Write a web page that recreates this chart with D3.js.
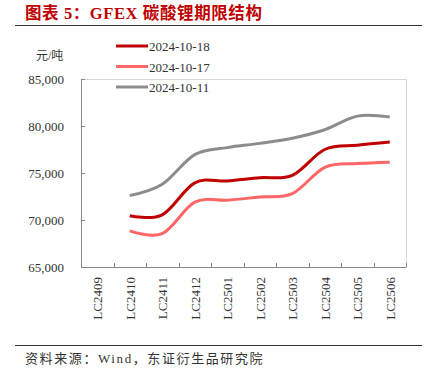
<!DOCTYPE html>
<html>
<head>
<meta charset="utf-8">
<script src="https://cdn.jsdelivr.net/npm/d3@7"></script>
<style>
  body { margin: 0; background: #fff; }
  text { font-family: "Liberation Serif", "Times New Roman", "Noto Sans CJK SC", serif; }
</style>
</head>
<body>
<div id="chart"></div>
<script>
const width = 433;
const height = 382;

// categories (contracts) and series values, yuan/ton
const contracts = ["LC2409", "LC2410", "LC2411", "LC2412", "LC2501", "LC2502", "LC2503", "LC2504", "LC2505", "LC2506"];
const s1018 = [null, 70450, 70550, 73950, 74150, 74500, 74750, 77500, 77950, 78300];
const s1017 = [null, 68850, 68550, 71900, 72100, 72450, 72800, 75600, 76000, 76150];
const s1011 = [null, 72600, 73800, 76950, 77700, 78150, 78700, 79600, 81050, 80950];
const seriesNames = ["2024-10-18", "2024-10-17", "2024-10-11"];
const seriesColors = ["#c00000", "#ff6666", "#8c8c8c"];
const yTicks = [65000, 70000, 75000, 80000, 85000];

const margin = { top: 79, right: 27, bottom: 115, left: 81 };
const plotW = width - margin.left - margin.right;
const plotH = height - margin.top - margin.bottom;

const svg = d3.select("#chart").append("svg").attr("width", width).attr("height", height);

// Title
svg.append("text")
  .attr("x", 25).attr("y", 19)
  .attr("fill", "#c00000")
  .attr("font-size", 16.5).attr("font-weight", "bold")
  .attr("letter-spacing", 0.6)
  .text("图表 5：GFEX 碳酸锂期限结构");
svg.append("line")
  .attr("x1", 15).attr("x2", 422).attr("y1", 25.5).attr("y2", 25.5)
  .attr("stroke", "#333").attr("stroke-width", 1);

const g = svg.append("g").attr("transform", `translate(${margin.left},${margin.top})`);

const x = d3.scaleBand().domain(contracts).range([0, plotW]);
const y = d3.scaleLinear().domain([65000, 85000]).range([plotH, 0]);

// frame (top and right)
g.append("path")
  .attr("d", `M0,0.5H${plotW + 0.5}V${plotH}`)
  .attr("fill", "none").attr("stroke", "#d9d9d9");

// y axis
const yAxis = g.append("g")
  .call(d3.axisLeft(y).tickValues(yTicks).tickSizeInner(-4).tickSizeOuter(0)
    .tickFormat(d3.format(",")).tickPadding(17));
yAxis.select(".domain").attr("stroke", "#888");
yAxis.selectAll(".tick line").attr("stroke", "#888");
yAxis.selectAll(".tick text").attr("font-size", 13).attr("fill", "#333");

// x axis, ticks at category boundaries
const xAxis = g.append("g").attr("transform", `translate(0,${plotH})`);
xAxis.append("line").attr("x1", 0).attr("x2", plotW + 0.5).attr("y1", 0.5).attr("y2", 0.5).attr("stroke", "#888");
xAxis.selectAll("line.tk")
  .data(contracts.slice(1).concat(["end"]))
  .enter().append("line")
  .attr("class", "tk")
  .attr("x1", (d, i) => Math.round(x.step() * (i + 1)) + 0.5)
  .attr("x2", (d, i) => Math.round(x.step() * (i + 1)) + 0.5)
  .attr("y1", 0).attr("y2", -4)
  .attr("stroke", "#888");
xAxis.selectAll("text")
  .data(contracts)
  .enter().append("text")
  .attr("transform", d => `translate(${x(d) + x.bandwidth() / 2 + 5},10) rotate(-90)`)
  .attr("text-anchor", "end")
  .attr("font-size", 13).attr("fill", "#333")
  .text(d => d);

// unit
svg.append("text")
  .attr("x", 36).attr("y", 60)
  .attr("font-size", 12).attr("fill", "#333")
  .text("元/吨");

// lines
const allSeries = [s1018, s1017, s1011];
const line = d3.line()
  .defined(d => d != null)
  .x((d, i) => x(contracts[i]) + x.bandwidth() / 2)
  .y(d => y(d))
  .curve(d3.curveCardinal);

// draw gray first so reds stay on top
[2, 1, 0].forEach(k => {
  g.append("path")
    .datum(allSeries[k])
    .attr("fill", "none")
    .attr("stroke", seriesColors[k])
    .attr("stroke-width", 3)
    .attr("d", line);
});

// legend
const legend = svg.append("g").attr("transform", "translate(116,46)");
seriesNames.forEach((name, i) => {
  const row = legend.append("g").attr("transform", `translate(0,${i * 20.5})`);
  row.append("line").attr("x1", 0).attr("x2", 32).attr("y1", 0).attr("y2", 0)
    .attr("stroke", seriesColors[i]).attr("stroke-width", 3);
  row.append("text").attr("x", 33).attr("y", 5)
    .attr("font-size", 13).attr("fill", "#333").text(name);
});

// source
svg.append("line")
  .attr("x1", 15).attr("x2", 422).attr("y1", 345.5).attr("y2", 345.5)
  .attr("stroke", "#333").attr("stroke-width", 1);
svg.append("text")
  .attr("x", 25).attr("y", 363)
  .attr("font-size", 13).attr("letter-spacing", 1.6)
  .attr("fill", "#333")
  .text("资料来源：Wind，东证衍生品研究院");
</script>
</body>
</html>
